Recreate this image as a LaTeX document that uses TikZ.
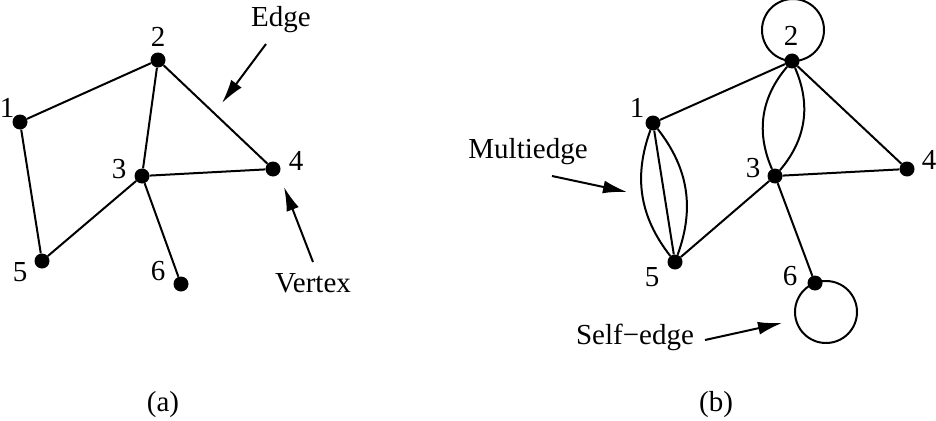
\documentclass[tikz,border=0pt]{standalone}
\usepackage{fontspec}
\setmainfont{Liberation Serif}
\usetikzlibrary{arrows.meta}

\tikzset{
  vertex/.style={circle, fill=black, inner sep=0pt, minimum size=15pt},
  tag/.style={inner sep=0pt},
  edge/.style={line width=2pt},
  pointer/.style={line width=2pt, -{Latex[length=24pt, width=13pt]}},
}

\begin{document}
\begin{tikzpicture}[x=1pt, y=-1pt, font=\fontsize{29}{34}\selectfont]
\useasboundingbox (0,0) rectangle (936,420);

% (a) a simple graph
\foreach \n/\x/\y in {1/20/122, 2/158/60, 3/142/176, 4/273/169, 5/42/261, 6/181/284}
    \node[vertex] (a\n) at (\x,\y) {};
\foreach \n/\x/\y in {1/7/108, 2/158/37, 3/119/169, 4/296/161, 5/20/272, 6/158/271}
    \node[tag] (la\n) at (\x,\y) {\n};

\foreach \u/\v in {1/2, 1/5, 2/3, 2/4, 3/4, 3/5, 3/6}
    \draw[edge] (a\u) -- (a\v);

\node[tag] (edgelbl) at (281,20) {Edge};
\coordinate (edgetail) at (266,44);
\coordinate (edgetip) at (222,103);
\draw[pointer] (edgetail) -- (edgetip);

\node[tag] (vertexlbl) at (313,283) {Vertex};
\coordinate (vertextail) at (313,262);
\coordinate (vertextip) at (284,187);
\draw[pointer] (vertextail) -- (vertextip);

\node[tag] (capa) at (163,405) {(a)};

% (b) with multiedges and self-edges
\foreach \n/\x/\y in {1/653/123, 2/792/61, 3/775/176, 4/907/169, 5/675/262, 6/815/283}
    \node[vertex] (b\n) at (\x,\y) {};
\foreach \n/\x/\y in {1/637/108, 2/791/36, 3/753/168, 4/929/160, 5/652/277, 6/790/276}
    \node[tag] (lb\n) at (\x,\y) {\n};

\foreach \u/\v in {1/2, 1/5, 2/4, 3/4, 3/5, 3/6}
    \draw[edge] (b\u) -- (b\v);

\draw[edge] (b1) to[bend left=29] (b5);
\draw[edge] (b1) to[bend right=29] (b5);
\draw[edge] (b2) to[bend left=32] (b3);
\draw[edge] (b2) to[bend right=32] (b3);

\draw[edge] (b2) ++(1,-31) circle[radius=31];
\draw[edge] (b6) ++(11,29) circle[radius=31];

\node[tag] (multilbl) at (528,152) {Multiedge};
\coordinate (multitail) at (552,176);
\coordinate (multitip) at (627,192);
\draw[pointer] (multitail) -- (multitip);

\node[tag] (selflbl) at (635,337) {Self−edge};
\coordinate (selftail) at (705,340);
\coordinate (selftip) at (782,323);
\draw[pointer] (selftail) -- (selftip);

\node[tag] (capb) at (716,405) {(b)};
\end{tikzpicture}
\end{document}
